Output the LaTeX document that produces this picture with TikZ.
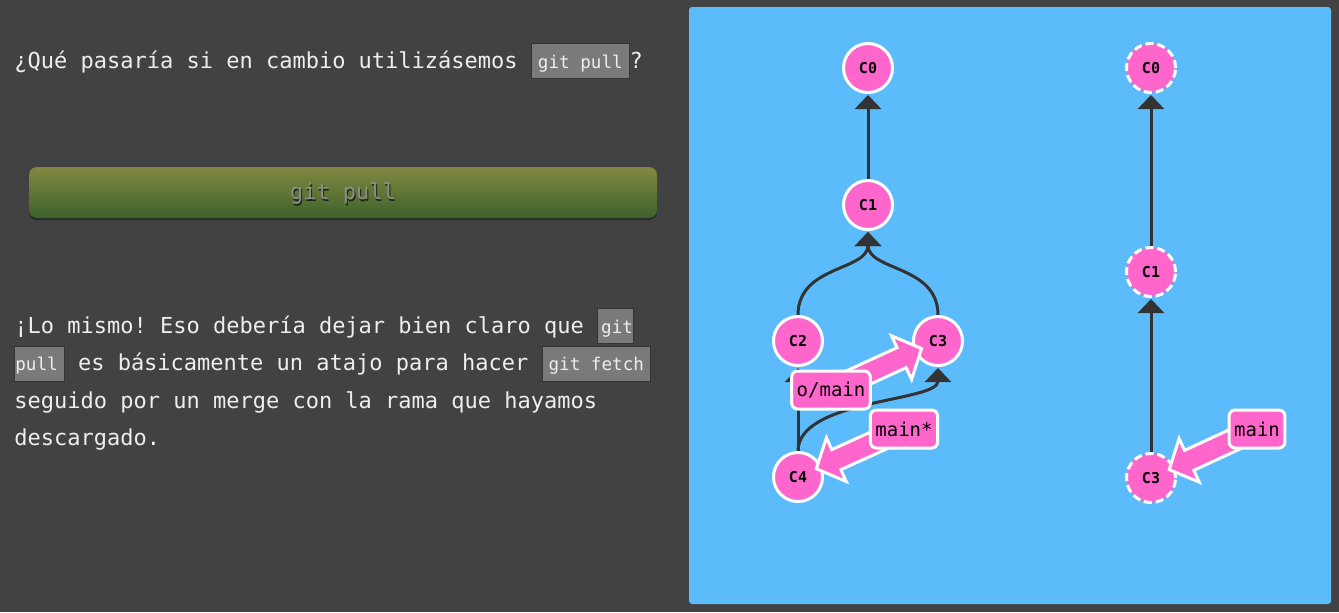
\documentclass[tikz,border=0pt]{standalone}
\usepackage{fontspec}
\setmonofont{DejaVu Sans Mono}
\usetikzlibrary{calc,arrows.meta}

\definecolor{pagebg}{RGB}{66,66,66}
\definecolor{panelblue}{RGB}{92,187,251}
\definecolor{commitpink}{RGB}{255,102,204}
\definecolor{linegrey}{RGB}{51,51,51}
\definecolor{textgrey}{RGB}{238,238,238}
\definecolor{codebg}{RGB}{122,122,122}
\definecolor{codeborder}{RGB}{52,52,52}
\definecolor{btntop}{RGB}{130,136,64}
\definecolor{btnbottom}{RGB}{60,98,44}
\definecolor{btntext}{RGB}{140,140,140}

% inline code box of the text column: left pad, right pad, text
\newcommand\codepart[3]{{\setlength\fboxsep{0pt}\setlength\fboxrule{0.5pt}%
  \fcolorbox{codeborder}{codebg}{\hspace{#1}\fontsize{8.8}{11}\selectfont
    \rule[-5pt]{0pt}{17pt}#3\hspace{#2}}}}
\newcommand\code[1]{\codepart{3pt}{3pt}{#1}}

% fat arrow from a branch label (#1) to its commit (#2), tip #3 from the centre
\newcommand\brancharrow[3]{%
  \draw[brancharrow] let \p1=($(#2)!#3!(#1)$), \p2=($(\p1)-(#1)$),
    \n1={atan2(\y2,\x2)}, \n2={veclen(\x2,\y2)}, \n3={\n2-11pt} in
    [shift={(#1)}, rotate=\n1]
    (0pt,-5.5pt) -- (\n3,-5.5pt) -- (\n3,-12pt) -- (\n2,0pt)
    -- (\n3,12pt) -- (\n3,5.5pt) -- (0pt,5.5pt) -- cycle;}

\tikzset{
  commit/.style={circle, draw=white, line width=1.5pt, fill=commitpink,
    minimum size=24.5pt, inner sep=0pt, text=black,
    font=\ttfamily\bfseries\fontsize{7.5}{9}\selectfont},
  oldcommit/.style={commit, dash pattern=on 4pt off 2pt},
  parentline/.style={draw=linegrey, line width=1.5pt,
    -{Triangle[length=7pt,width=13pt]}, shorten >=0.5pt},
  branchlabel/.style={draw=white, line width=1.5pt, fill=commitpink,
    rounded corners=3pt, minimum height=19pt, inner xsep=2.5pt, inner ysep=0pt,
    text=black, font=\ttfamily\fontsize{9.5}{11}\selectfont},
  brancharrow/.style={draw=white, line width=1.5pt, fill=commitpink, line join=miter},
  textline/.style={anchor=base west, inner sep=0pt, text=textgrey,
    font=\ttfamily\fontsize{11}{13}\selectfont}
}

\begin{document}
\begin{tikzpicture}[x=0.5pt, y=-0.5pt]
    \useasboundingbox (0,0) rectangle (1339,612);
    \fill[pagebg] (0,0) rectangle (1339,612);

    % text column
    \node[textline] (q1) at (14,68) {¿Qué pasaría si en cambio utilizásemos \code{git pull}?};

    \fill[black, opacity=.35, rounded corners=4pt] (29,169.5) rectangle (657,220);
    \shade[top color=btntop, bottom color=btnbottom, rounded corners=4pt] (29,167) rectangle (657,218);
    \node[text=black!60!btnbottom, font=\ttfamily\fontsize{11}{13}\selectfont] (btnshadow) at (344,195) {git pull};
    \node[text=btntext, font=\ttfamily\fontsize{11}{13}\selectfont] (btn) at (343,193) {git pull};

    \node[textline] (p1) at (14,333) {¡Lo mismo! Eso debería dejar bien claro que \codepart{1.5pt}{0pt}{git}};
    \node[textline] (p2) at (14,370.5) {\codepart{0pt}{3pt}{pull} es básicamente un atajo para hacer \code{git fetch}};
    \node[textline] (p3) at (14,408) {seguido por un merge con la rama que hayamos};
    \node[textline] (p4) at (14,445.5) {descargado.};

    % panel
    \fill[panelblue, rounded corners=1.5pt] (689,7) rectangle (1331,604);

    \node[commit] (c0) at (868,68) {C0};
    \node[commit] (c1) at (868,205) {C1};
    \node[commit] (c2) at (798,341) {C2};
    \node[commit] (c3) at (938,341) {C3};
    \node[commit] (c4) at (798,477) {C4};

    \node[oldcommit] (r0) at (1151,68) {C0};
    \node[oldcommit] (r1) at (1151,272) {C1};
    \node[oldcommit] (r3) at (1151,478) {C3};

    \draw[parentline] (c1) -- (c0);
    \draw[parentline] (c2.north) .. controls +(0,-50) and +(0,40) .. (c1.south);
    \draw[parentline] (c3.north) .. controls +(0,-50) and +(0,40) .. (c1.south);
    \draw[parentline] (c4) -- (c2);
    \draw[parentline] (c4.north) .. controls +(0,-52) and +(0,35) .. (c3.south);
    \draw[parentline] (r1) -- (r0);
    \draw[parentline] (r3) -- (r1);

    % branches
    \coordinate (omainat) at (831,390);
    \coordinate (mainat) at (904,429);
    \coordinate (rmainat) at (1257,429);
    \brancharrow{omainat}{c3}{9pt}
    \brancharrow{mainat}{c4}{10pt}
    \brancharrow{rmainat}{r3}{10pt}
    \node[branchlabel] (omain) at (omainat) {o/main};
    \node[branchlabel] (main) at (mainat) {main*};
    \node[branchlabel] (rmain) at (rmainat) {main};
\end{tikzpicture}
\end{document}
